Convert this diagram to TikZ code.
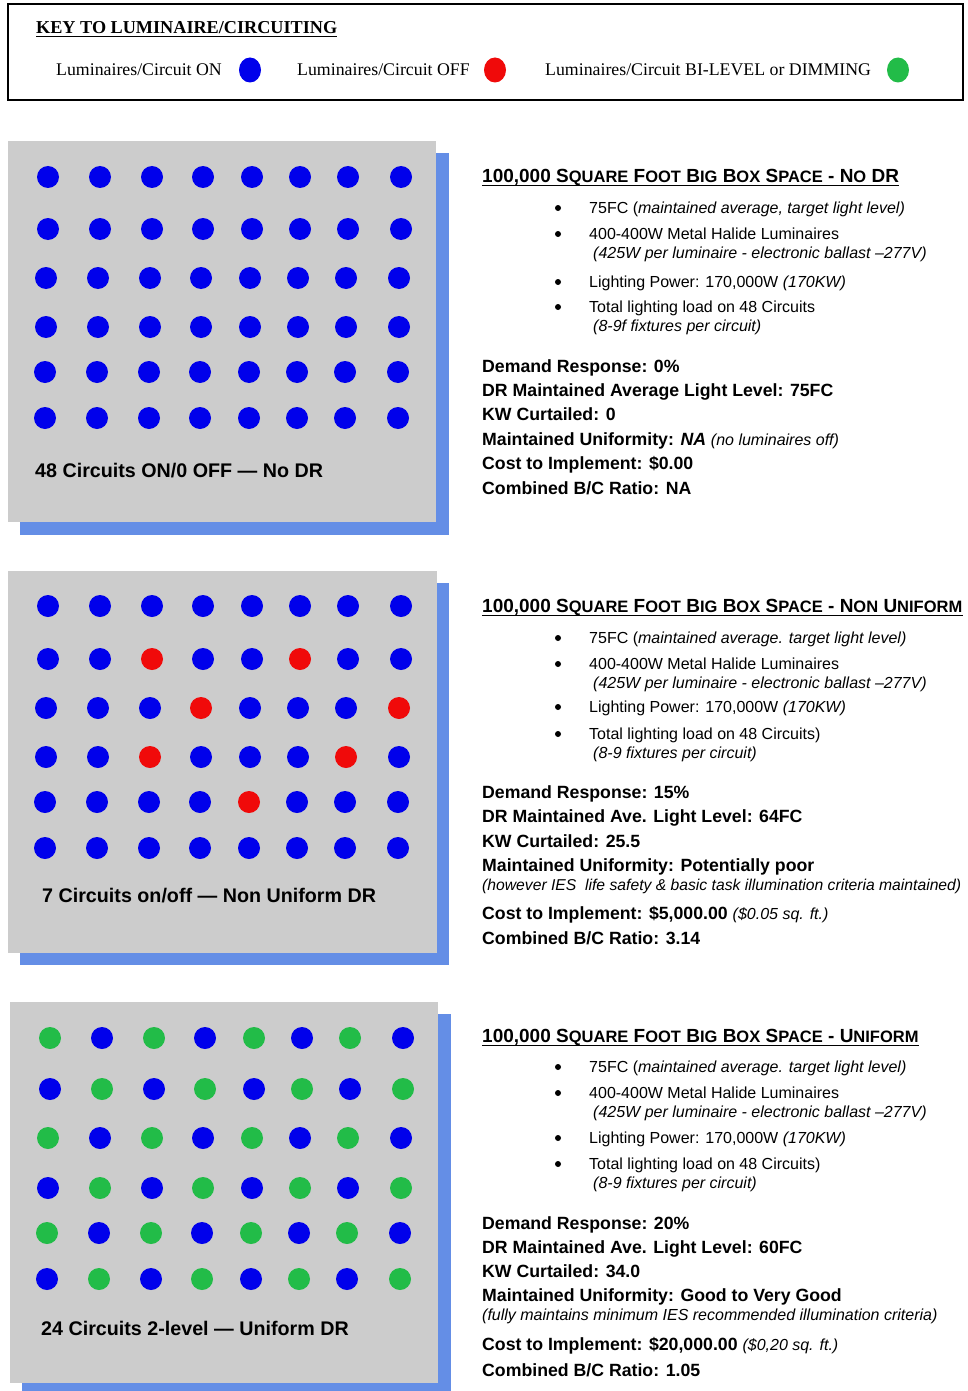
\documentclass[tikz,border=0pt]{standalone}
\usepackage{fontspec}
\setmainfont{Liberation Serif}
\newfontfamily\arial{Liberation Sans}
\definecolor{cB}{RGB}{0,0,235}
\definecolor{cR}{RGB}{240,10,10}
\definecolor{cG}{RGB}{34,188,72}
\definecolor{panelgray}{RGB}{204,204,204}
\definecolor{shadowblue}{RGB}{100,142,230}
\newcommand\SC[1]{{\fontsize{16.5}{17}\selectfont #1}}
\newcommand\dotrow[3]{\foreach \cc [count=\i] in {#3} {\pgfmathsetmacro\xx{{48,100,152,203,252,300,348,401}[\i-1]+#2}\fill[fill=c\cc] (\xx,#1) circle[radius=11pt];}}
\begin{document}
\begin{tikzpicture}[x=1pt,y=-1pt,
 keytxt/.style={anchor=base west, inner sep=0pt, font=\fontsize{17.8}{20}\selectfont},
 ttl/.style={anchor=base west, inner sep=0pt, font=\arial\bfseries\fontsize{19}{21}\selectfont},
 itm/.style={anchor=base west, inner sep=0pt, font=\arial\fontsize{16}{18}\selectfont},
 stat/.style={anchor=base west, inner sep=0pt, font=\arial\bfseries\fontsize{17.7}{20}\selectfont},
 lbl/.style={anchor=base west, inner sep=0pt, font=\arial\bfseries\fontsize{19.7}{22}\selectfont},
 panel/.style={fill=panelgray}, shadow/.style={fill=shadowblue},
 uline/.style={line width=1.2pt},
 bul/.style={fill=black}]
\useasboundingbox (0,0) rectangle (967,1391);
\fill[white] (0,0) rectangle (967,1391);
% key
\draw[line width=1.8pt] (8,4) rectangle (963,100);
\node[keytxt, font=\bfseries\fontsize{18.2}{20}\selectfont] (keyt) at (36,34) {KEY TO LUMINAIRE/CIRCUITING};
\draw[uline] ([yshift=-2.5pt]keyt.base west) -- ([yshift=-2.5pt]keyt.base east);
\node[keytxt] (k1) at (56,75.8) {Luminaires/Circuit ON};
\fill[cB] (250,70) ellipse[x radius=11pt, y radius=12.5pt];
\node[keytxt] (k2) at (297,75.8) {Luminaires/Circuit OFF};
\fill[cR] (495,70) ellipse[x radius=11pt, y radius=12.5pt];
\node[keytxt] (k3) at (545,75.8) {Luminaires/Circuit BI-LEVEL or DIMMING};
\fill[cG] (898,70) ellipse[x radius=11pt, y radius=12.5pt];
% panel 1
\fill[shadow] (20,153) rectangle (449,535);
\fill[panel] (8,141) rectangle (436,522);
\dotrow{177}{0}{B,B,B,B,B,B,B,B}
\dotrow{229}{0}{B,B,B,B,B,B,B,B}
\dotrow{278}{-2}{B,B,B,B,B,B,B,B}
\dotrow{327}{-2}{B,B,B,B,B,B,B,B}
\dotrow{372}{-3}{B,B,B,B,B,B,B,B}
\dotrow{418}{-3}{B,B,B,B,B,B,B,B}
\node[lbl] (l1) at (35,477) {48 Circuits ON/0 OFF — No DR};
% panel 2
\fill[shadow] (20,583) rectangle (449,965);
\fill[panel] (8,571) rectangle (437,953);
\dotrow{606}{0}{B,B,B,B,B,B,B,B}
\dotrow{659}{0}{B,B,R,B,B,R,B,B}
\dotrow{708}{-2}{B,B,B,R,B,B,B,R}
\dotrow{757}{-2}{B,B,R,B,B,B,R,B}
\dotrow{802}{-3}{B,B,B,B,R,B,B,B}
\dotrow{848}{-3}{B,B,B,B,B,B,B,B}
\node[lbl] (l2) at (42,902) {7 Circuits on/off — Non Uniform DR};
% panel 3
\fill[shadow] (22,1014) rectangle (451,1395);
\fill[panel] (10,1002) rectangle (438,1383);
\dotrow{1038}{2}{G,B,G,B,G,B,G,B}
\dotrow{1089}{2}{B,G,B,G,B,G,B,G}
\dotrow{1138}{0}{G,B,G,B,G,B,G,B}
\dotrow{1188}{0}{B,G,B,G,B,G,B,G}
\dotrow{1233}{-1}{G,B,G,B,G,B,G,B}
\dotrow{1279}{-1}{B,G,B,G,B,G,B,G}
\node[lbl] (l3) at (41,1335) {24 Circuits 2-level — Uniform DR};
% text block 1
\node[ttl] (t1) at (482,182.5) {100,000 S\SC{QUARE} F\SC{OOT} B\SC{IG} B\SC{OX} S\SC{PACE} - N\SC{O} DR};
\draw[uline] ([yshift=-2.8pt]t1.base west) -- ([yshift=-2.8pt]t1.base east);
\foreach \yy in {208,234,282,307} \fill[bul] (558,\yy) circle[radius=3pt];
\node[itm] (a1) at (589,213.7) {75FC (\textit{maintained average, target light level)}};
\node[itm] (a2) at (589,239.7) {400-400W Metal Halide Luminaires};
\node[itm] (a3) at (593,258.7) {\textit{(425W per luminaire - electronic ballast –277V)}};
\node[itm] (a4) at (589,287.7) {Lighting Power: 170,000W \textit{(170KW)}};
\node[itm] (a5) at (589,312.7) {Total lighting load on 48 Circuits};
\node[itm] (a6) at (593,331.7) {\textit{(8-9f fixtures per circuit)}};
\node[stat] (s11) at (482,372.3) {Demand Response: 0\%};
\node[stat] (s12) at (482,396.3) {DR Maintained Average Light Level: 75FC};
\node[stat] (s13) at (482,420.3) {KW Curtailed: 0};
\node[stat] (s14) at (482,445.3) {Maintained Uniformity: \textit{NA} {\mdseries\itshape\fontsize{16}{18}\selectfont (no luminaires off)}};
\node[stat] (s15) at (482,469.3) {Cost to Implement: \$0.00};
\node[stat] (s16) at (482,494.3) {Combined B/C Ratio: NA};
% text block 2
\node[ttl] (t2) at (482,612.5) {100,000 S\SC{QUARE} F\SC{OOT} B\SC{IG} B\SC{OX} S\SC{PACE} - N\SC{ON} U\SC{NIFORM}};
\draw[uline] ([yshift=-2.8pt]t2.base west) -- ([yshift=-2.8pt]t2.base east);
\foreach \yy in {638,664,707,734} \fill[bul] (558,\yy) circle[radius=3pt];
\node[itm] (b1) at (589,643.7) {75FC (\textit{maintained average. target light level)}};
\node[itm] (b2) at (589,669.7) {400-400W Metal Halide Luminaires};
\node[itm] (b3) at (593,688.7) {\textit{(425W per luminaire - electronic ballast –277V)}};
\node[itm] (b4) at (589,712.7) {Lighting Power: 170,000W \textit{(170KW)}};
\node[itm] (b5) at (589,739.7) {Total lighting load on 48 Circuits)};
\node[itm] (b6) at (593,758.7) {\textit{(8-9 fixtures per circuit)}};
\node[stat] (s21) at (482,798.7) {Demand Response: 15\%};
\node[stat] (s22) at (482,822.7) {DR Maintained Ave. Light Level: 64FC};
\node[stat] (s23) at (482,847.3) {KW Curtailed: 25.5};
\node[stat] (s24) at (482,871.3) {Maintained Uniformity: Potentially poor};
\node[itm, font=\arial\fontsize{15.7}{18}\selectfont] (s25) at (482,890.7) {\textit{(however IES\ \ life safety \& basic task illumination criteria maintained)}};
\node[stat] (s26) at (482,919.3) {Cost to Implement: \$5,000.00 {\mdseries\itshape\fontsize{16}{18}\selectfont (\$0.05 sq. ft.)}};
\node[stat] (s27) at (482,944.3) {Combined B/C Ratio: 3.14};
% text block 3
\node[ttl] (t3) at (482,1042.5) {100,000 S\SC{QUARE} F\SC{OOT} B\SC{IG} B\SC{OX} S\SC{PACE} - U\SC{NIFORM}};
\draw[uline] ([yshift=-2.8pt]t3.base west) -- ([yshift=-2.8pt]t3.base east);
\foreach \yy in {1067,1093,1138,1164} \fill[bul] (558,\yy) circle[radius=3pt];
\node[itm] (c1) at (589,1072.7) {75FC (\textit{maintained average. target light level)}};
\node[itm] (c2) at (589,1098.7) {400-400W Metal Halide Luminaires};
\node[itm] (c3) at (593,1117.7) {\textit{(425W per luminaire - electronic ballast –277V)}};
\node[itm] (c4) at (589,1143.7) {Lighting Power: 170,000W \textit{(170KW)}};
\node[itm] (c5) at (589,1169.7) {Total lighting load on 48 Circuits)};
\node[itm] (c6) at (593,1188.7) {\textit{(8-9 fixtures per circuit)}};
\node[stat] (s31) at (482,1229.3) {Demand Response: 20\%};
\node[stat] (s32) at (482,1253.3) {DR Maintained Ave. Light Level: 60FC};
\node[stat] (s33) at (482,1277.3) {KW Curtailed: 34.0};
\node[stat] (s34) at (482,1301.3) {Maintained Uniformity: Good to Very Good};
\node[itm] (s35) at (482,1320.7) {\textit{(fully maintains minimum IES recommended illumination criteria)}};
\node[stat] (s36) at (482,1350.3) {Cost to Implement: \$20,000.00 {\mdseries\itshape\fontsize{16}{18}\selectfont (\$0,20 sq. ft.)}};
\node[stat] (s37) at (482,1376.3) {Combined B/C Ratio: 1.05};
\end{tikzpicture}
\end{document}
